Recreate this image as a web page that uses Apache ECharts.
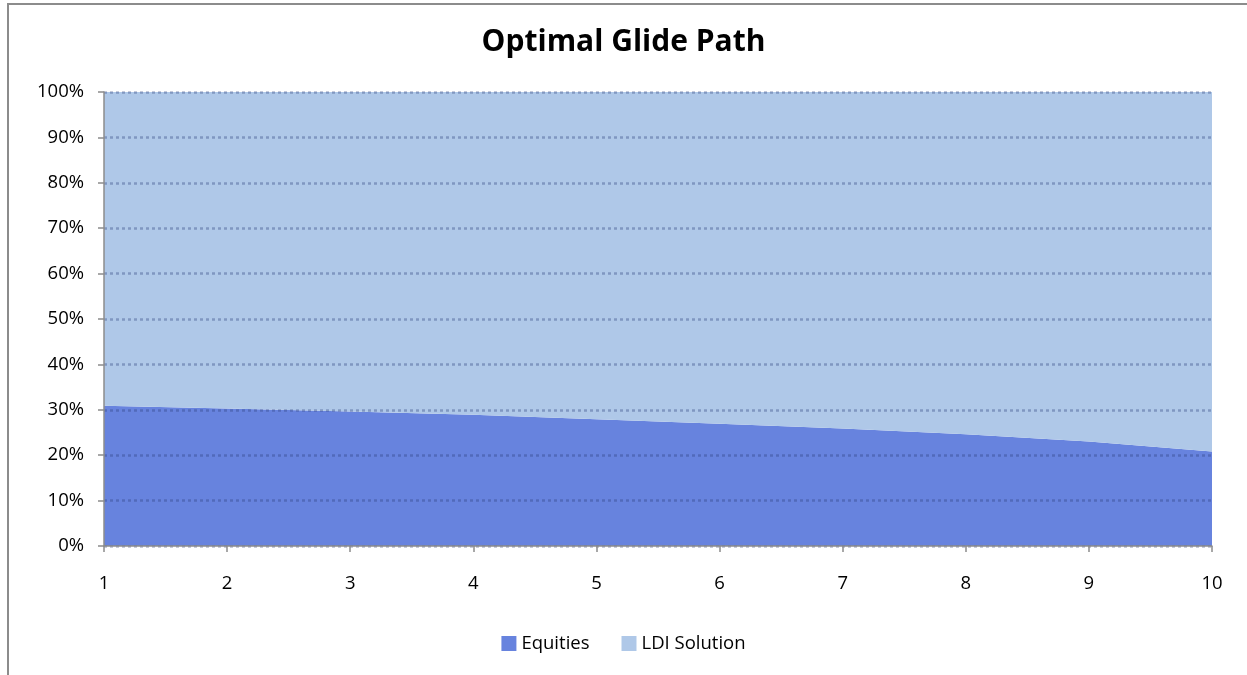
<!DOCTYPE html>
<html>
<head>
<meta charset="utf-8">
<script src="https://cdn.jsdelivr.net/npm/echarts@6/dist/echarts.min.js"></script>
<style>
html,body{margin:0;padding:0;width:1247px;height:675px;overflow:hidden;background:#fff;}
#frame{position:absolute;left:7px;top:3px;width:1300px;height:700px;border-left:2px solid #8c8c8c;border-top:2px solid #8c8c8c;box-sizing:border-box;}
#chart{position:absolute;left:0;top:0;width:1247px;height:675px;}
</style>
</head>
<body>
<div id="frame"></div>
<div id="chart"></div>
<script>
const categories = ['1','2','3','4','5','6','7','8','9','10'];
const equities = [30.9, 30.3, 29.6, 28.9, 27.9, 26.9, 25.9, 24.6, 23.0, 20.8];
const ldiSolution = equities.map(v => +(100 - v).toFixed(1));
const yTicks = [0,10,20,30,40,50,60,70,80,90,100];

const chart = echarts.init(document.getElementById('chart'), null, {renderer:'canvas'});
const font = '"Open Sans", "Noto Sans", sans-serif';
chart.setOption({
  animation:false,
  backgroundColor:'transparent',
  title:{
    text:'Optimal Glide Path',
    left:'center', top:22,
    textStyle:{fontFamily:font, fontWeight:'bold', fontSize:30, color:'#000'}
  },
  legend:{
    bottom:17, left:'center',
    itemWidth:15, itemHeight:15, itemGap:32,
    icon:'rect',
    textStyle:{fontFamily:font, fontSize:18.5, color:'#000'},
    data:['Equities','LDI Solution']
  },
  grid:{left:104, right:35, top:92, bottom:129},
  xAxis:{
    type:'category', data:categories, boundaryGap:false, z:6,
    axisLine:{lineStyle:{color:'#8c8c8c', width:1.5}},
    axisTick:{show:true, length:6, lineStyle:{color:'#8c8c8c', width:1.5}},
    axisLabel:{fontFamily:font, fontSize:18.5, color:'#000', margin:28},
    splitLine:{show:false}
  },
  yAxis:{
    type:'value', min:0, max:100, interval:10, z:5,
    axisLine:{show:true, lineStyle:{color:'#8c8c8c', width:1.5}},
    axisTick:{show:true, length:6, lineStyle:{color:'#8c8c8c', width:1.5}},
    axisLabel:{fontFamily:font, fontSize:18.5, color:'#000', margin:20,
      formatter:v => yTicks.includes(v) ? v + '%' : ''},
    splitLine:{show:true, lineStyle:{color:'rgba(45,65,125,0.36)', width:2.5, type:[3,3]}}
  },
  series:[
    {name:'Equities', type:'line', stack:'total', data:equities,
     symbol:'none', lineStyle:{width:0}, areaStyle:{color:'#6783DE', opacity:1},
     itemStyle:{color:'#6783DE'}},
    {name:'LDI Solution', type:'line', stack:'total', data:ldiSolution,
     symbol:'none', lineStyle:{width:0}, areaStyle:{color:'#AFC8E8', opacity:1},
     itemStyle:{color:'#AFC8E8'}}
  ]
});
</script>
</body>
</html>
